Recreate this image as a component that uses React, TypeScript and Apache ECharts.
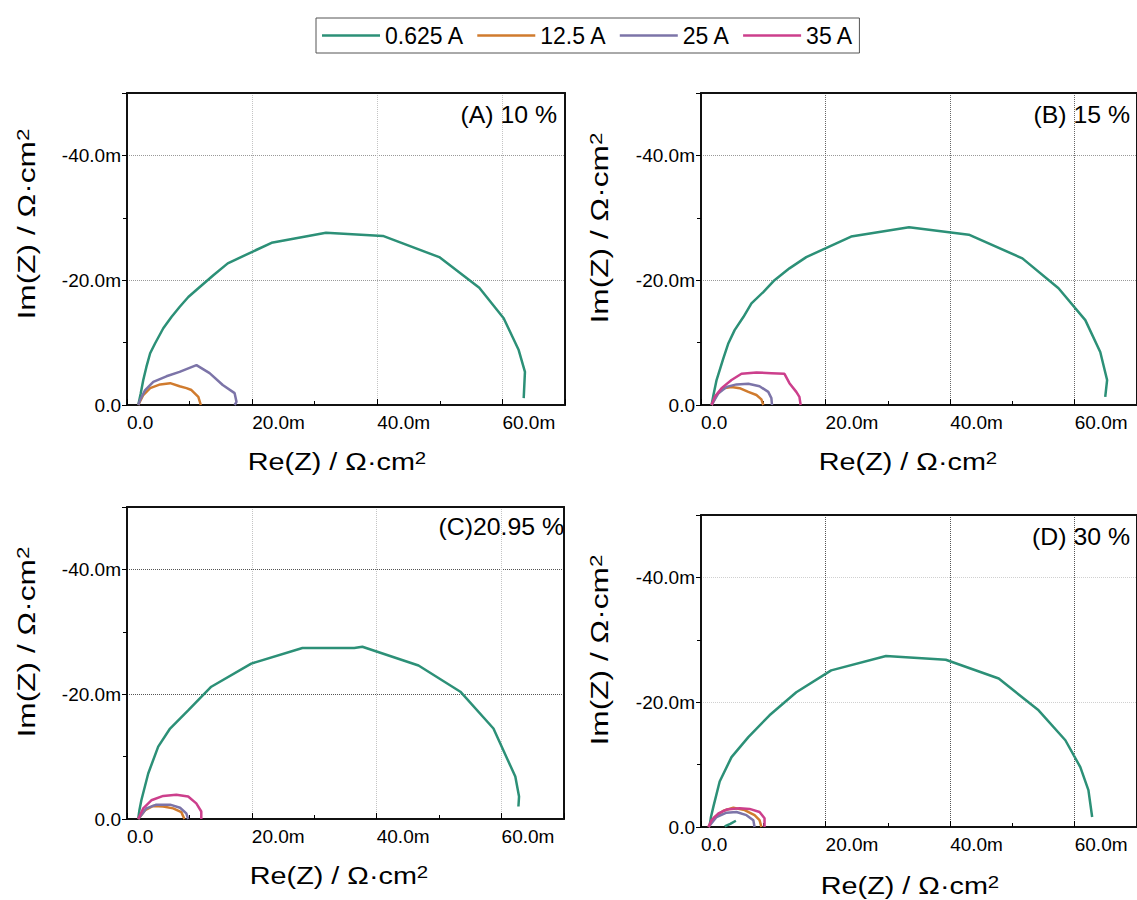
import React, { useEffect, useRef } from 'react';
import * as echarts from 'echarts';

const SERIES_NAMES = ['0.625 A', '12.5 A', '25 A', '35 A'];
const COLORS = ['#2c9077', '#d07b2e', '#7c74a8', '#cc3f8c'];
const PANEL_LABELS = ['(A) 10 %', '(B) 15 %', '(C)20.95 %', '(D) 30 %'];

// Panel A: 10 %
const A_0625 = [[1.8, 0], [2.2, 1.9], [2.6, 4.0], [3.1, 6.1], [3.7, 8.3], [4.5, 9.9], [5.8, 12.3], [7.1, 14.1], [8.4, 15.7], [9.8, 17.3], [11.4, 18.7], [13.8, 20.8], [16.1, 22.7], [23.1, 26.0], [31.8, 27.6], [40.9, 27.1], [49.9, 23.7], [56.3, 18.8], [60.2, 13.9], [62.6, 8.8], [63.6, 5.3], [63.4, 1.1]];
const A_125 = [[1.8, 0], [2.6, 1.6], [3.7, 2.7], [5.3, 3.3], [6.9, 3.5], [8.4, 3.0], [9.5, 2.7], [10.3, 2.4], [11.4, 1.3], [11.8, 0]];
const A_25 = [[1.8, 0], [2.1, 0.8], [2.9, 2.4], [4.2, 3.7], [6.3, 4.6], [8.4, 5.3], [11.1, 6.4], [13.2, 5.1], [15.3, 3.2], [17.2, 1.9], [17.5, 0.5], [17.2, 0]];

// Panel B: 15 %
const B_0625 = [[1.7, 0], [2.0, 1.6], [2.5, 4.0], [3.6, 7.5], [4.4, 9.9], [5.4, 12.0], [6.8, 14.1], [8.1, 16.3], [10.0, 18.1], [11.8, 20.0], [14.2, 21.9], [16.9, 23.7], [24.1, 27.0], [33.4, 28.5], [43.0, 27.3], [51.6, 23.5], [57.4, 18.7], [61.7, 13.6], [64.1, 8.5], [65.2, 4.0], [64.9, 1.3]];
const B_125 = [[1.7, 0], [2.5, 1.6], [3.6, 2.7], [4.9, 2.9], [6.2, 2.7], [7.6, 2.1], [8.9, 1.6], [9.7, 0.9], [10.0, 0]];
const B_25 = [[1.7, 0], [2.8, 1.9], [4.1, 2.9], [5.7, 3.3], [7.6, 3.4], [9.4, 3.0], [10.8, 2.1], [11.3, 1.1], [11.4, 0]];
const B_35 = [[1.7, 0], [2.2, 1.3], [3.3, 2.7], [4.9, 4.0], [6.5, 5.0], [8.9, 5.2], [11.3, 5.1], [13.4, 5.0], [14.2, 3.5], [15.3, 2.1], [15.8, 1.3], [16.0, 0]];

// Panel C: 20.95 %
const C_0625 = [[1.8, 0.1], [2.0, 1.5], [2.3, 3.0], [3.4, 7.3], [5.0, 11.6], [6.9, 14.5], [9.8, 17.4], [13.5, 21.2], [19.9, 24.9], [28.1, 27.4], [36.4, 27.4], [37.7, 27.6], [46.7, 24.6], [53.4, 20.4], [58.7, 14.5], [62.2, 6.8], [62.8, 3.6], [62.7, 2.0]];
const C_125 = [[1.8, 0], [2.9, 1.4], [4.2, 2.1], [5.8, 2.0], [7.4, 1.7], [8.7, 1.1], [9.2, 0]];
const C_25 = [[1.8, 0], [3.1, 1.7], [4.7, 2.3], [6.9, 2.3], [8.5, 1.8], [9.5, 0.9], [9.8, 0]];
const C_35 = [[1.8, 0], [2.6, 1.7], [3.9, 3.0], [5.8, 3.7], [7.9, 3.9], [9.8, 3.6], [11.1, 2.5], [11.9, 1.2], [11.9, 0]];

// Panel D: 30 %
const D_0625 = [[1.4, 0.3], [1.6, 1.6], [2.0, 3.3], [3.0, 7.3], [4.9, 11.2], [7.6, 14.4], [11.0, 17.9], [15.3, 21.6], [20.9, 25.1], [29.7, 27.4], [39.3, 26.8], [47.8, 23.8], [54.2, 18.7], [58.5, 13.9], [60.9, 9.6], [62.2, 5.9], [62.8, 1.6]];
const D_0625_TAIL = [[3.8, 0.1], [4.7, 0.5], [5.6, 1.0]];
const D_125 = [[1.2, 0], [2.2, 1.6], [3.6, 2.6], [5.2, 3.1], [7.0, 2.7], [8.6, 1.9], [9.4, 1.1], [9.7, 0]];
const D_25 = [[1.2, 0], [2.5, 1.6], [4.1, 2.3], [5.7, 2.4], [7.3, 1.9], [8.4, 1.1], [8.6, 0]];
const D_35 = [[1.2, 0], [1.7, 1.1], [2.8, 2.2], [4.1, 2.8], [6.2, 3.0], [7.8, 2.9], [9.4, 2.4], [10.2, 1.4], [10.2, 0]];

const PANEL_DATA: (number[][] | null)[][] = [
  [A_0625, A_125, A_25, null],
  [B_0625, B_125, B_25, B_35],
  [C_0625, C_125, C_25, C_35],
  [D_0625, D_125, D_25, D_35],
];

const X_MIN = 0, X_MAX = 70, X_STEP = 20;
const Y_MIN = 0, Y_MAX = 50, Y_STEP = 20;

const FONT = '"Liberation Sans", Arial, sans-serif';

const GRIDS = [
  { left: 127, top: 93, width: 438, height: 312 },
  { left: 701, top: 93, width: 438, height: 312 },
  { left: 127, top: 507, width: 437, height: 312 },
  { left: 701, top: 515, width: 438, height: 312 },
];
const V_GRID_COLORS = ['#c4c4c4', '#666', '#c4c4c4', '#555'];
const H_GRID_COLORS = ['#999', '#999', '#555', '#d0d0d0'];
const X_TITLE_POS = [[337, 462], [908, 462], [339, 876], [910, 886]];
const Y_TITLE_POS = [[27, 224], [600, 228], [27, 642], [600, 650]];
const LABEL_POS = [[557, 115], [1130, 115], [564, 527], [1130, 537]];

function buildOption() {
  const grid: any[] = [];
  const xAxis: any[] = [];
  const yAxis: any[] = [];
  const series: any[] = [];
  const graphic: any[] = [];

  const frameLine = { show: true, onZero: false, lineStyle: { color: '#111', width: 2 } };

  GRIDS.forEach((g, i) => {
    grid.push({ ...g, show: false, containLabel: false });
    // main bottom / left axes (index 2*i)
    xAxis.push({
      type: 'value', gridIndex: i, position: 'bottom', min: X_MIN, max: X_MAX, interval: X_STEP,
      axisLine: frameLine,
      axisTick: { show: true, inside: true, length: 6, lineStyle: { color: '#000', width: 1 } },
      minorTick: { show: true, splitNumber: 2, length: 4, lineStyle: { color: '#000', width: 1 } },
      axisLabel: {
        show: true, align: 'left', margin: 8, color: '#000', fontSize: 19, fontFamily: FONT,
        showMaxLabel: false, hideOverlap: false,
        formatter: (v: number) => (v === 0 ? '0.0' : v.toFixed(1) + 'm'),
      },
      splitLine: { show: true, showMinLine: false, showMaxLine: false, lineStyle: { type: 'dotted', color: V_GRID_COLORS[i], width: 1 } },
    });
    yAxis.push({
      type: 'value', gridIndex: i, position: 'left', min: Y_MIN, max: Y_MAX, interval: Y_STEP,
      axisLine: frameLine,
      axisTick: { show: true, inside: false, length: 5, lineStyle: { color: '#000', width: 1 } },
      minorTick: { show: true, splitNumber: 2, length: 4, lineStyle: { color: '#000', width: 1 } },
      axisLabel: {
        show: true, margin: 6, color: '#000', fontSize: 19, fontFamily: FONT,
        showMaxLabel: false, hideOverlap: false,
        formatter: (v: number) => (v === 0 ? '0.0' : '-' + v.toFixed(1) + 'm'),
      },
      splitLine: { show: true, showMinLine: false, showMaxLine: false, lineStyle: { type: 'dotted', color: H_GRID_COLORS[i], width: 1 } },
    });
    // frame: top / right axes (index 2*i+1)
    xAxis.push({
      type: 'value', gridIndex: i, position: 'top', min: X_MIN, max: X_MAX, interval: X_STEP,
      axisLine: frameLine, axisTick: { show: false }, axisLabel: { show: false }, splitLine: { show: false },
    });
    yAxis.push({
      type: 'value', gridIndex: i, position: 'right', min: Y_MIN, max: Y_MAX, interval: Y_STEP,
      axisLine: frameLine, axisTick: { show: false }, axisLabel: { show: false }, splitLine: { show: false },
    });

    const ax = 2 * i;
    PANEL_DATA[i].forEach((d, k) => {
      if (!d) return;
      series.push({
        type: 'line', name: SERIES_NAMES[k], xAxisIndex: ax, yAxisIndex: ax,
        data: d, symbol: 'none', smooth: false,
        lineStyle: { color: COLORS[k], width: 2.5 }, itemStyle: { color: COLORS[k] },
      });
    });
    if (i === 3) {
      series.push({
        type: 'line', name: SERIES_NAMES[0], xAxisIndex: ax, yAxisIndex: ax,
        data: D_0625_TAIL, symbol: 'none', smooth: false,
        lineStyle: { color: COLORS[0], width: 2.5 }, itemStyle: { color: COLORS[0] },
      });
    }

    const titleRich = { sup: { fontSize: 17, fontFamily: FONT, fill: '#000', verticalAlign: 'top' } };
    graphic.push({
      type: 'text', x: X_TITLE_POS[i][0], y: X_TITLE_POS[i][1], scaleX: 1.2, z: 100,
      style: { text: 'Re(Z) / Ω·cm{sup|2}', rich: titleRich, fontSize: 24, fontFamily: FONT, fill: '#000', align: 'center', verticalAlign: 'middle' },
    });
    graphic.push({
      type: 'text', x: Y_TITLE_POS[i][0], y: Y_TITLE_POS[i][1], scaleX: 1.32, rotation: Math.PI / 2, z: 100,
      style: { text: 'Im(Z) / Ω·cm{sup|2}', rich: titleRich, fontSize: 24, fontFamily: FONT, fill: '#000', align: 'center', verticalAlign: 'middle' },
    });
    graphic.push({
      type: 'text', x: LABEL_POS[i][0], y: LABEL_POS[i][1], scaleX: 1.08, z: 100,
      style: { text: PANEL_LABELS[i], fontSize: 23, fontFamily: FONT, fill: '#000', align: 'right', verticalAlign: 'middle' },
    });
  });

  return {
    animation: false,
    backgroundColor: '#fff',
    legend: {
      data: SERIES_NAMES, left: 316, top: 18, orient: 'horizontal',
      icon: 'rect', itemWidth: 58, itemHeight: 2.5, itemGap: 13,
      padding: [6, 6], borderColor: '#555', borderWidth: 1,
      textStyle: { fontSize: 23, color: '#000', fontFamily: FONT },
    },
    grid, xAxis, yAxis, series, graphic,
  };
}

export default function App() {
  const ref = useRef<HTMLDivElement>(null);
  useEffect(() => {
    const chart = echarts.init(ref.current!, null, { renderer: 'svg' });
    chart.setOption(buildOption() as any);
    return () => chart.dispose();
  }, []);
  return <div ref={ref} style={{ position: 'absolute', left: 0, top: 0, width: 1137, height: 900, background: '#fff' }} />;
}
